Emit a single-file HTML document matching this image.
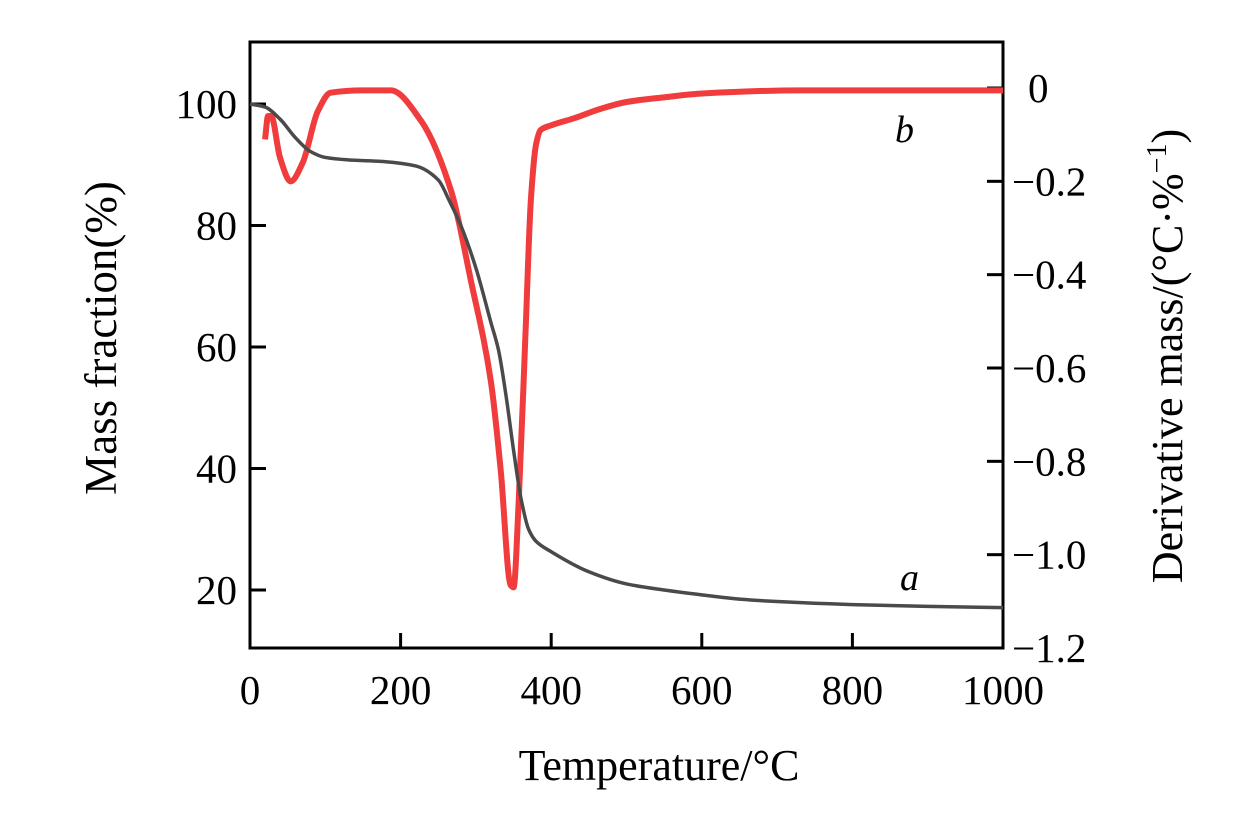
<!DOCTYPE html>
<html><head><meta charset="utf-8"><style>
body{margin:0;background:#fff;}
svg{display:block;font-family:"Liberation Serif",serif;}
</style></head><body>
<svg id="chart" width="1260" height="819" viewBox="0 0 1260 819">
<g id="axes"></g>
<g id="plot"></g>
<g font-family="Liberation Serif, serif">
<text x="900" y="590" font-size="38" font-style="italic">a</text>
<text x="895" y="142" font-size="38" font-style="italic">b</text>
<text x="659" y="780" font-size="44" text-anchor="middle">Temperature/°C</text>
<text transform="translate(116,338) rotate(-90)" font-size="45" text-anchor="middle">Mass fraction(%)</text>
<text transform="translate(1182,356) rotate(-90)" font-size="44" text-anchor="middle">Derivative mass/(°C·%<tspan font-size="28" dy="-16">−1</tspan><tspan dy="16">)</tspan></text>
</g>
</svg>
<script>
const massTemps=[0,20,40,60,80,100,130,180,220,250,265,280,300,320,330,340,350,360,370,380,400,450,500,550,600,650,700,800,900,1000];
const massValues=[100,99.5,97.5,94.5,92.2,91.2,90.8,90.5,89.8,87.5,84,80,73,64,59.5,52,43,35,30,28,26.3,23,21,20,19.2,18.5,18.1,17.6,17.3,17.1];
const dtgTemps=[20,24,28,40,54,70,90,107,150,187,227,267,293,320,333,346,350,357,366,373,380,386,400,430,465,500,550,598,731,1000];
const dtgValues=[-0.11,-0.06,-0.06,-0.15,-0.2,-0.16,-0.05,-0.01,-0.005,-0.005,-0.07,-0.22,-0.41,-0.63,-0.82,-1.065,-1.07,-0.88,-0.52,-0.24,-0.12,-0.09,-0.08,-0.065,-0.045,-0.03,-0.02,-0.012,-0.005,-0.005];
const xTicks=[0,200,400,600,800,1000];
const yLeftTicks=[20,40,60,80,100];
const yRightTicks=[0,-0.2,-0.4,-0.6,-0.8,-1.0,-1.2];
const yRightLabels=["0","−0.2","−0.4","−0.6","−0.8","−1.0","−1.2"];

const L=250,R=1003,T=42,B=648;
const xs=t=>L+(t/1000)*(R-L);
const yl=v=>104+(100-v)*(486/80);
const yr=v=>88-v*(560/1.2);
const NS="http://www.w3.org/2000/svg";
const axes=document.getElementById('axes'),plot=document.getElementById('plot');
function mk(tag,attrs,parent,text){const e=document.createElementNS(NS,tag);for(const k in attrs)e.setAttribute(k,attrs[k]);if(text!==undefined)e.textContent=text;parent.appendChild(e);return e;}

const frame=mk('rect',{x:L,y:T,width:R-L,height:B-T,fill:'none',stroke:'#000','stroke-width':3},axes);



xTicks.forEach(t=>{
  const ln=mk('line',{x1:xs(t),x2:xs(t),y1:B,y2:B-15,stroke:'#000','stroke-width':3},axes);
  
  
  const tx=mk('text',{x:xs(t),y:704,'font-size':41,'text-anchor':'middle'},axes,String(t));
  
  
});
yLeftTicks.forEach(v=>{
  const ln=mk('line',{x1:L,x2:L+16,y1:yl(v),y2:yl(v),stroke:'#000','stroke-width':3},axes);
  
  
  const tx=mk('text',{x:237,y:yl(v)+14,'font-size':41,'text-anchor':'end'},axes,String(v));
  
  
});
yRightTicks.forEach((v,i)=>{
  const ln=mk('line',{x1:R,x2:R-16,y1:yr(v),y2:yr(v),stroke:'#000','stroke-width':3},axes);
  
  
  const tx=mk('text',{x:i===0?1028:1012,y:yr(v)+14,'font-size':41},axes,yRightLabels[i]);
  
  
});

function monotone(p){const n=p.length,dx=[],m=[],t=[];
for(let i=0;i<n-1;i++){dx[i]=p[i+1][0]-p[i][0];m[i]=(p[i+1][1]-p[i][1])/dx[i];}
t[0]=m[0];t[n-1]=m[n-2];
for(let i=1;i<n-1;i++){t[i]=(m[i-1]*m[i]<=0)?0:3*(dx[i-1]+dx[i])/((2*dx[i]+dx[i-1])/m[i-1]+(dx[i]+2*dx[i-1])/m[i]);}
let d='M'+p[0][0]+','+p[0][1];
for(let i=0;i<n-1;i++){const h=dx[i]/3;d+=' C'+(p[i][0]+h)+','+(p[i][1]+t[i]*h)+' '+(p[i+1][0]-h)+','+(p[i+1][1]-t[i+1]*h)+' '+p[i+1][0]+','+p[i+1][1];}
return d;}

const dtg=mk('path',{d:monotone(dtgTemps.map((t,i)=>[xs(t),yr(dtgValues[i])])),fill:'none',stroke:'#f03c3c','stroke-width':6,'stroke-linejoin':'round'},plot);


const tg=mk('path',{d:monotone(massTemps.map((t,i)=>[xs(t),yl(massValues[i])])),fill:'none',stroke:'#4a4a4a','stroke-width':3.5},plot);


</script>
</body></html>
